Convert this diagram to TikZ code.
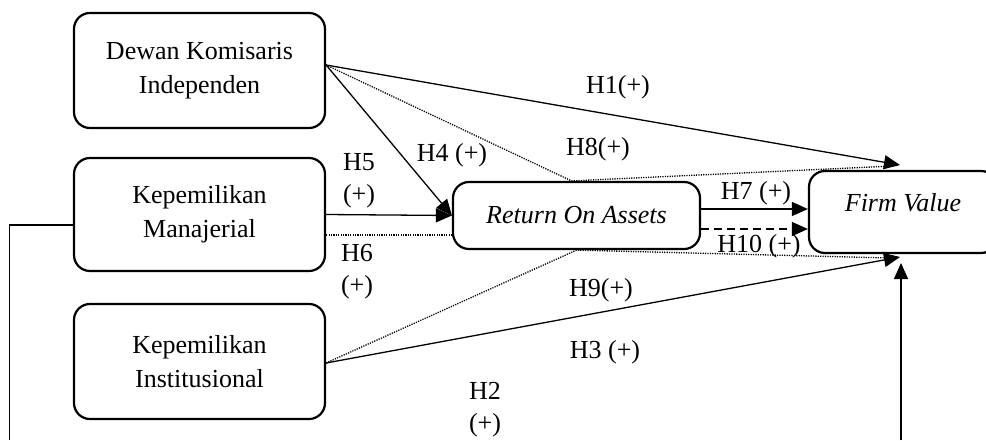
\documentclass[tikz,border=0pt]{standalone}
\usepackage{fontspec}
\setmainfont{Liberation Serif}
\usetikzlibrary{arrows.meta}
\begin{document}
\begin{tikzpicture}[x=1pt,y=-1pt,
  box/.style={draw, line width=2.2pt, rounded corners=16pt, align=center, inner sep=0pt},
  lbl/.style={align=center, inner sep=0pt, font=\fontsize{26}{32}\selectfont},
  conn/.style={line width=1.3pt},
  arr/.style={conn, -{Triangle[length=16pt,width=14pt]}},
  dot/.style={line width=1.3pt, dash pattern=on 1.2pt off 1.2pt},
  dsh/.style={conn, dash pattern=on 8pt off 5pt, -{Triangle[length=16pt,width=14pt]}},
  font=\fontsize{26}{34}\selectfont]
\useasboundingbox (0,0) rectangle (986,440);
\clip (0,0) rectangle (986,440);
\fill[white] (0,0) rectangle (986,440);

% boxes
\node[box, minimum width=251pt, minimum height=115pt] (dki) at (199.5,70.5) {Dewan Komisaris\\Independen};
\node[box, minimum width=251pt, minimum height=113pt] (km) at (199.5,214.5) {Kepemilikan\\Manajerial};
\node[box, minimum width=251pt, minimum height=115pt] (ki) at (199.5,361.5) {Kepemilikan\\Institusional};
\node[box, minimum width=247pt, minimum height=67pt] (roa) at (576.5,215.5) {\itshape Return On Assets};
\node[box, minimum width=188pt, minimum height=82pt, text depth=19pt] (fv) at (903,212) {\itshape Firm Value};

% anchor points
\coordinate (dkiR) at ([yshift=5.5pt]dki.east);
\coordinate (kmR6) at ([yshift=-20.5pt]km.east);
\coordinate (kmL) at ([yshift=-10.5pt]km.west);
\coordinate (kiR) at ([yshift=-1.5pt]ki.east);
\coordinate (roaL6) at ([yshift=-19.5pt]roa.west);
\coordinate (roaT) at ([xshift=-5pt]roa.north);
\coordinate (roaR7) at ([yshift=6.5pt]roa.east);
\coordinate (roaR10) at ([yshift=-13.5pt]roa.east);
\coordinate (fvL7) at ([yshift=3pt]fv.west);
\coordinate (fvL10) at ([yshift=-17pt]fv.west);
\coordinate (fvT1) at (900,165);
\coordinate (fvT8) at (893,166);
\coordinate (fvB3) at (900,257);
\coordinate (fvB9) at (890,258);
\coordinate (loopA) at (9.5,225);
\coordinate (loopB) at (9.5,440);
\coordinate (upA) at (901,440);
\coordinate (upB) at (901,263);

% connectors
\draw[arr] (dkiR) -- (fvT1);
\draw[dot] (dkiR) -- (roaT) -- (fvT8);
\draw[arr] (dkiR) -- (roa.west);
\draw[arr] (km.east) -- (roa.west);
\draw[dot] (kmR6) -- (roaL6);
\draw[arr] (roaR7) -- (fvL7);
\draw[dsh] (roaR10) -- (fvL10);
\draw[dot] (kiR) -- (roa.south) -- (fvB9);
\draw[arr] (kiR) -- (fvB3);
\draw[conn] (kmL) -- (loopA) -- (loopB);
\draw[arr] (upA) -- (upB);

% labels
\node[lbl] (h1) at (618,87) {H1(+)};
\node[lbl] (h8) at (598,149) {H8(+)};
\node[lbl] (h4) at (452,155) {H4 (+)};
\node[lbl] (h5) at (359,181) {H5\\(+)};
\node[lbl] (h6) at (357,272) {H6\\(+)};
\node[lbl] (h7) at (756,193) {H7 (+)};
\node[lbl] (h10) at (759,246) {H10 (+)};
\node[lbl] (h9) at (601,290) {H9(+)};
\node[lbl] (h3) at (605,352) {H3 (+)};
\node[lbl] (h2) at (485,410) {H2\\(+)};
\end{tikzpicture}
\end{document}
